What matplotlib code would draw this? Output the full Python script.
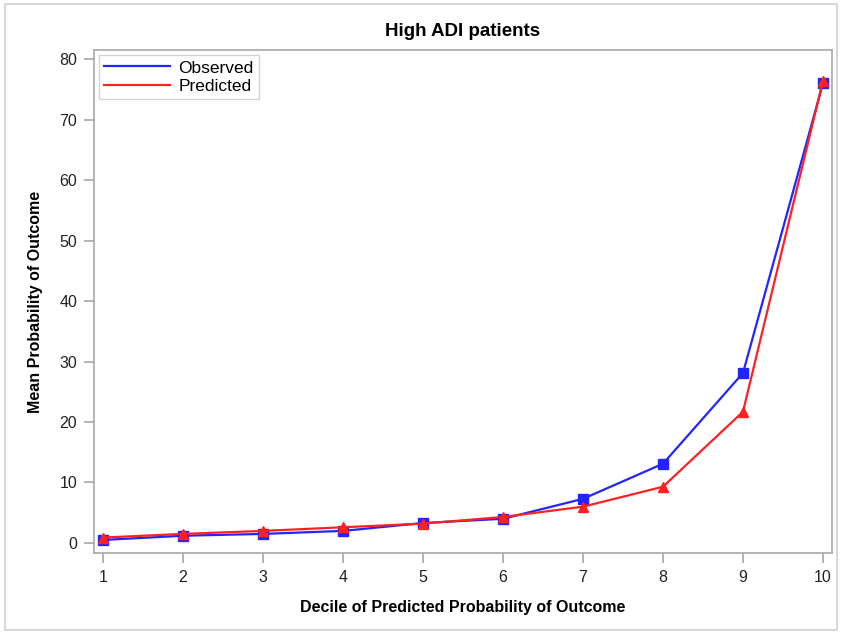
import numpy as np
import matplotlib.pyplot as plt
from matplotlib.patches import Rectangle

plt.rcParams['font.family'] = ['Liberation Sans', 'DejaVu Sans']

deciles = [1, 2, 3, 4, 5, 6, 7, 8, 9, 10]
observed = [0.5, 1.2, 1.5, 2.0, 3.3, 4.0, 7.3, 13.1, 28.1, 76.0]
predicted = [0.9, 1.5, 2.0, 2.6, 3.2, 4.3, 6.0, 9.3, 21.7, 76.4]

fig = plt.figure(figsize=(8.42, 6.34), dpi=100)
# light outer frame like the exported graph
fig.patches.append(Rectangle((0.006, 0.006), 0.988, 0.988, transform=fig.transFigure,
                             fill=False, edgecolor='#d0d0d0', linewidth=1.2))
ax = fig.add_axes([0.1116, 0.1278, 0.8765, 0.7934])

ax.plot(deciles, observed, color='#2424ff', lw=1.6, marker='s', ms=7,
        label='Observed', zorder=3)
ax.plot(deciles, predicted, color='#ff2020', lw=1.6, marker='^', ms=7,
        label='Predicted', zorder=4)

ax.set_xlim(0.8875, 10.1125)
ax.set_ylim(-1.65, 81.5)
ax.set_xticks(deciles)
ax.set_yticks(np.arange(0, 81, 10))
for s in ax.spines.values():
    s.set_color('#a8a8a8')
    s.set_linewidth(1.2)
ax.tick_params(colors='#a8a8a8', labelcolor='#222222', labelsize=11.5, length=7,
               width=1.2, pad=5)

ax.set_title('High ADI patients', fontsize=13.5, fontweight='bold', pad=10)
ax.set_xlabel('Decile of Predicted Probability of Outcome', fontsize=11.5,
              fontweight='bold', labelpad=11)
ax.set_ylabel('Mean Probability of Outcome', fontsize=11.5, fontweight='bold', labelpad=12)

leg = ax.legend(loc='upper left', fontsize=12.5, handlelength=3.8, borderaxespad=0.3,
                frameon=True, fancybox=False, handletextpad=0.45, borderpad=0.3,
                labelspacing=0.18)
for h in leg.legend_handles:
    h.set_marker('')
leg.get_frame().set_edgecolor('#c8c8c8')
leg.get_frame().set_linewidth(1.0)

fig.savefig('out.png', dpi=100)
